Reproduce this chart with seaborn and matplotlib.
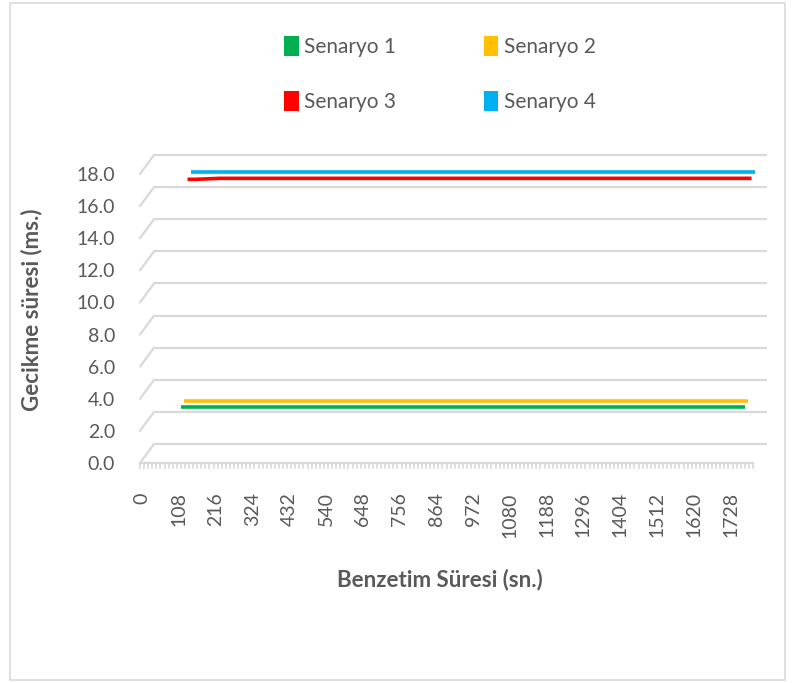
import numpy as np
import pandas as pd
import matplotlib
matplotlib.use("Agg")
import matplotlib.pyplot as plt
import matplotlib.transforms as mtransforms
from matplotlib.patches import Patch, Rectangle
from matplotlib.ticker import FixedLocator, NullFormatter
import seaborn as sns

# Category axis: simulation time in seconds, one category every 12 s
categories = np.arange(0, 1800, 12)
tick_labels = [str(v) for v in range(0, 1800, 108)]

# Time span covered by the measured series
times = np.arange(108, 1765, 12)

series_names = ["Senaryo 1", "Senaryo 2", "Senaryo 3", "Senaryo 4"]
series_colors = ["#00B050", "#FFC000", "#FF0000", "#00B0F0"]

senaryo_1 = [
    3.36, 3.36, 3.36, 3.36, 3.36, 3.36, 3.36, 3.36, 3.36, 3.36,
    3.36, 3.36, 3.36, 3.36, 3.36, 3.36, 3.36, 3.36, 3.36, 3.36,
    3.36, 3.36, 3.36, 3.36, 3.36, 3.36, 3.36, 3.36, 3.36, 3.36,
    3.36, 3.36, 3.36, 3.36, 3.36, 3.36, 3.36, 3.36, 3.36, 3.36,
    3.36, 3.36, 3.36, 3.36, 3.36, 3.36, 3.36, 3.36, 3.36, 3.36,
    3.36, 3.36, 3.36, 3.36, 3.36, 3.36, 3.36, 3.36, 3.36, 3.36,
    3.36, 3.36, 3.36, 3.36, 3.36, 3.36, 3.36, 3.36, 3.36, 3.36,
    3.36, 3.36, 3.36, 3.36, 3.36, 3.36, 3.36, 3.36, 3.36, 3.36,
    3.36, 3.36, 3.36, 3.36, 3.36, 3.36, 3.36, 3.36, 3.36, 3.36,
    3.36, 3.36, 3.36, 3.36, 3.36, 3.36, 3.36, 3.36, 3.36, 3.36,
    3.36, 3.36, 3.36, 3.36, 3.36, 3.36, 3.36, 3.36, 3.36, 3.36,
    3.36, 3.36, 3.36, 3.36, 3.36, 3.36, 3.36, 3.36, 3.36, 3.36,
    3.36, 3.36, 3.36, 3.36, 3.36, 3.36, 3.36, 3.36, 3.36, 3.36,
    3.36, 3.36, 3.36, 3.36, 3.36, 3.36, 3.36, 3.36, 3.36,
]
senaryo_2 = [
    3.42, 3.42, 3.42, 3.42, 3.42, 3.42, 3.42, 3.42, 3.42, 3.42,
    3.42, 3.42, 3.42, 3.42, 3.42, 3.42, 3.42, 3.42, 3.42, 3.42,
    3.42, 3.42, 3.42, 3.42, 3.42, 3.42, 3.42, 3.42, 3.42, 3.42,
    3.42, 3.42, 3.42, 3.42, 3.42, 3.42, 3.42, 3.42, 3.42, 3.42,
    3.42, 3.42, 3.42, 3.42, 3.42, 3.42, 3.42, 3.42, 3.42, 3.42,
    3.42, 3.42, 3.42, 3.42, 3.42, 3.42, 3.42, 3.42, 3.42, 3.42,
    3.42, 3.42, 3.42, 3.42, 3.42, 3.42, 3.42, 3.42, 3.42, 3.42,
    3.42, 3.42, 3.42, 3.42, 3.42, 3.42, 3.42, 3.42, 3.42, 3.42,
    3.42, 3.42, 3.42, 3.42, 3.42, 3.42, 3.42, 3.42, 3.42, 3.42,
    3.42, 3.42, 3.42, 3.42, 3.42, 3.42, 3.42, 3.42, 3.42, 3.42,
    3.42, 3.42, 3.42, 3.42, 3.42, 3.42, 3.42, 3.42, 3.42, 3.42,
    3.42, 3.42, 3.42, 3.42, 3.42, 3.42, 3.42, 3.42, 3.42, 3.42,
    3.42, 3.42, 3.42, 3.42, 3.42, 3.42, 3.42, 3.42, 3.42, 3.42,
    3.42, 3.42, 3.42, 3.42, 3.42, 3.42, 3.42, 3.42, 3.42,
]
senaryo_3 = [
    16.93, 16.93, 16.93, 16.94, 16.95, 16.96, 16.97, 16.98, 16.99, 16.99,
    16.99, 16.99, 16.99, 16.99, 16.99, 16.99, 16.99, 16.99, 16.99, 16.99,
    16.99, 16.99, 16.99, 16.99, 16.99, 16.99, 16.99, 16.99, 16.99, 16.99,
    16.99, 16.99, 16.99, 16.99, 16.99, 16.99, 16.99, 16.99, 16.99, 16.99,
    16.99, 16.99, 16.99, 16.99, 16.99, 16.99, 16.99, 16.99, 16.99, 16.99,
    16.99, 16.99, 16.99, 16.99, 16.99, 16.99, 16.99, 16.99, 16.99, 16.99,
    16.99, 16.99, 16.99, 16.99, 16.99, 16.99, 16.99, 16.99, 16.99, 16.99,
    16.99, 16.99, 16.99, 16.99, 16.99, 16.99, 16.99, 16.99, 16.99, 16.99,
    16.99, 16.99, 16.99, 16.99, 16.99, 16.99, 16.99, 16.99, 16.99, 16.99,
    16.99, 16.99, 16.99, 16.99, 16.99, 16.99, 16.99, 16.99, 16.99, 16.99,
    16.99, 16.99, 16.99, 16.99, 16.99, 16.99, 16.99, 16.99, 16.99, 16.99,
    16.99, 16.99, 16.99, 16.99, 16.99, 16.99, 16.99, 16.99, 16.99, 16.99,
    16.99, 16.99, 16.99, 16.99, 16.99, 16.99, 16.99, 16.99, 16.99, 16.99,
    16.99, 16.99, 16.99, 16.99, 16.99, 16.99, 16.99, 16.99, 16.99,
]
senaryo_4 = [
    17.10, 17.10, 17.10, 17.10, 17.10, 17.10, 17.10, 17.10, 17.10, 17.10,
    17.10, 17.10, 17.10, 17.10, 17.10, 17.10, 17.10, 17.10, 17.10, 17.10,
    17.10, 17.10, 17.10, 17.10, 17.10, 17.10, 17.10, 17.10, 17.10, 17.10,
    17.10, 17.10, 17.10, 17.10, 17.10, 17.10, 17.10, 17.10, 17.10, 17.10,
    17.10, 17.10, 17.10, 17.10, 17.10, 17.10, 17.10, 17.10, 17.10, 17.10,
    17.10, 17.10, 17.10, 17.10, 17.10, 17.10, 17.10, 17.10, 17.10, 17.10,
    17.10, 17.10, 17.10, 17.10, 17.10, 17.10, 17.10, 17.10, 17.10, 17.10,
    17.10, 17.10, 17.10, 17.10, 17.10, 17.10, 17.10, 17.10, 17.10, 17.10,
    17.10, 17.10, 17.10, 17.10, 17.10, 17.10, 17.10, 17.10, 17.10, 17.10,
    17.10, 17.10, 17.10, 17.10, 17.10, 17.10, 17.10, 17.10, 17.10, 17.10,
    17.10, 17.10, 17.10, 17.10, 17.10, 17.10, 17.10, 17.10, 17.10, 17.10,
    17.10, 17.10, 17.10, 17.10, 17.10, 17.10, 17.10, 17.10, 17.10, 17.10,
    17.10, 17.10, 17.10, 17.10, 17.10, 17.10, 17.10, 17.10, 17.10, 17.10,
    17.10, 17.10, 17.10, 17.10, 17.10, 17.10, 17.10, 17.10, 17.10,
]
series_values = [senaryo_1, senaryo_2, senaryo_3, senaryo_4]

y_ticks = np.arange(0, 18.1, 2)

sns.set_theme(style="white")
plt.rcParams["font.family"] = ["Lato", "DejaVu Sans"]

TEXT = "#595959"
GRID = "#D9D9D9"
DPI = 100
W, H = 797, 683

fig = plt.figure(figsize=(W / DPI, H / DPI), dpi=DPI)
fig.patch.set_facecolor("white")

# front plane of the pseudo-3D plot, in figure pixels
left_px, right_px, top_px, bottom_px = 140, 753, 174, 463
ax = fig.add_axes([left_px / W, 1 - bottom_px / H,
                   (right_px - left_px) / W, (bottom_px - top_px) / H])
ax.set_facecolor("none")

# depth of the back wall (pixels)
depth_dx, depth_dy = 14, 19


def depth_shift(frac):
    return mtransforms.ScaledTranslation(frac * depth_dx / DPI,
                                         frac * depth_dy / DPI,
                                         fig.dpi_scale_trans)


# back wall gridlines plus the diagonal edges joining them to the front
back = ax.get_yaxis_transform() + depth_shift(1.0)
for v in y_ticks:
    ax.plot([0, 1], [v, v], transform=back, color=GRID, lw=1.6,
            clip_on=False, zorder=1, solid_capstyle="butt")
    ax.annotate("", xy=(0, v), xycoords=ax.get_yaxis_transform(),
                xytext=(depth_dx, depth_dy), textcoords="offset pixels",
                arrowprops=dict(arrowstyle="-", color=GRID, lw=1.6,
                                shrinkA=0, shrinkB=0),
                annotation_clip=False, zorder=1)

# each scenario sits at its own depth between front and back walls
for i, (name, vals, col) in enumerate(zip(series_names, series_values,
                                          series_colors)):
    df = pd.DataFrame({"t": times, "v": vals})
    sns.lineplot(data=df, x="t", y="v", ax=ax, color=col, linewidth=2.6,
                 legend=False)
    line = ax.lines[-1]
    line.set_transform(ax.transData + depth_shift((2 * i + 1) / 8))
    line.set_clip_on(False)
    line.set_zorder(3 + i)
    line.set_solid_capstyle("butt")

ax.set_xlim(categories[0] - 6, categories[-1] + 6)
ax.set_ylim(0, 18)

for s in ["top", "right", "left"]:
    ax.spines[s].set_visible(False)
ax.spines["bottom"].set_color(GRID)
ax.spines["bottom"].set_linewidth(1.6)
ax.spines["bottom"].set_zorder(2)

ax.xaxis.set_major_locator(FixedLocator(np.arange(0, 1800, 108)))
ax.set_xticklabels(tick_labels, rotation=90, color=TEXT, fontsize=14)
ax.xaxis.set_minor_locator(FixedLocator(np.append(categories - 6,
                                                  categories[-1] + 6)))
ax.xaxis.set_minor_formatter(NullFormatter())
ax.tick_params(axis="x", which="major", length=0, pad=21)
ax.tick_params(axis="x", which="minor", length=4, width=1.2, color=GRID,
               bottom=True, direction="out")

ax.set_yticks(y_ticks)
ax.set_yticklabels([f"{v:.1f}" for v in y_ticks], color=TEXT, fontsize=14)
ax.tick_params(axis="y", length=0, pad=18)
ax.grid(False)

ax.set_xlabel("Benzetim Süresi (sn.)", fontsize=16, fontweight="bold",
              color=TEXT)
ax.xaxis.label.set_va("center")
ax.xaxis.set_label_coords((440 - left_px) / (right_px - left_px),
                          (bottom_px - 580) / (bottom_px - top_px))
ax.set_ylabel("Gecikme süresi (ms.)", fontsize=16, fontweight="bold",
              color=TEXT)
ax.yaxis.label.set_va("center")
ax.yaxis.set_label_coords((32 - left_px) / (right_px - left_px),
                          (bottom_px - 310) / (bottom_px - top_px))

# legend laid out row by row: Senaryo 1 | Senaryo 2 / Senaryo 3 | Senaryo 4
order = [0, 2, 1, 3]
handles = [Patch(facecolor=series_colors[k], edgecolor="none") for k in order]
labels = [series_names[k] for k in order]
fig.legend(handles, labels, loc="upper center", ncol=2,
           bbox_to_anchor=(440 / W, 1 - 17 / H), frameon=False,
           fontsize=15, labelcolor=TEXT, handlelength=0.7,
           handleheight=1.1, handletextpad=0.25, columnspacing=4.2,
           labelspacing=1.65)

# outer chart border
fig.add_artist(Rectangle((10 / W, 3 / H), 775 / W, 677 / H,
                         transform=fig.transFigure, fill=False,
                         edgecolor=GRID, lw=1.2))

fig.savefig("out.png", dpi=DPI)
